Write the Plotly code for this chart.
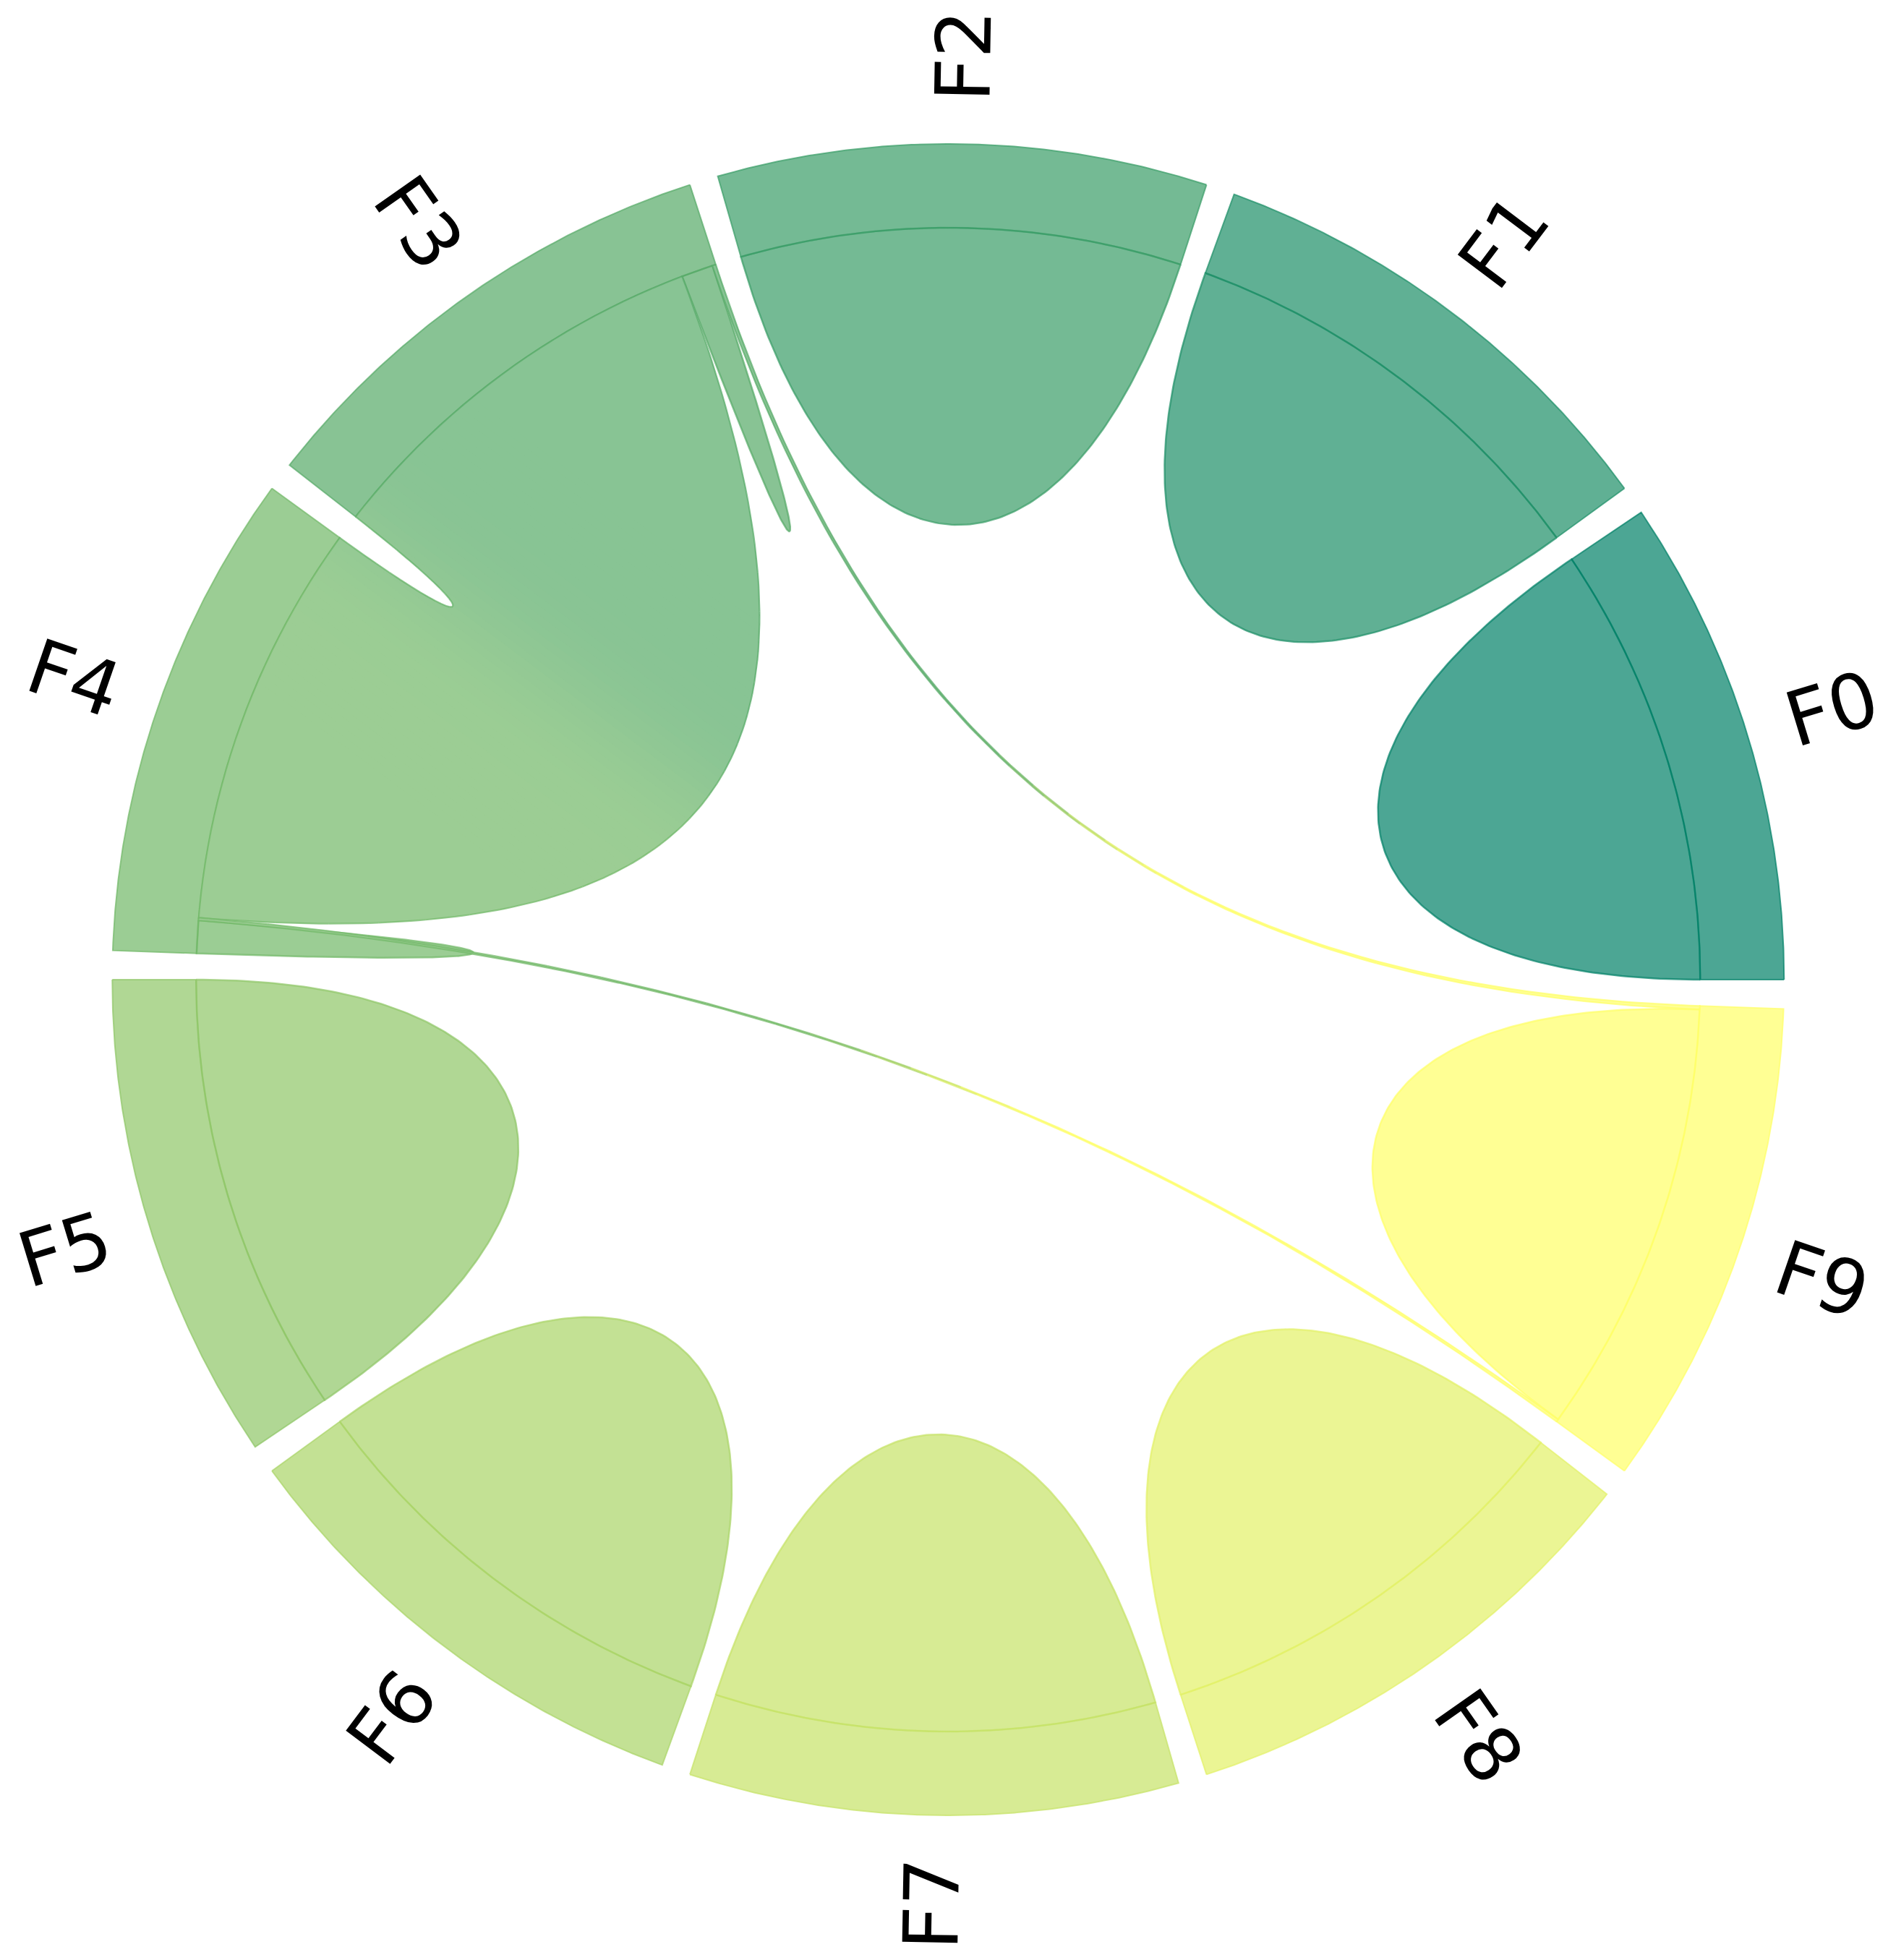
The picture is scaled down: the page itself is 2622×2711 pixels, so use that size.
import numpy as np
import plotly.graph_objects as go
from math import erf, sqrt

# ---------------- data ----------------
names = ["F0", "F1", "F2", "F3", "F4", "F5", "F6", "F7", "F8", "F9"]
matrix = [
    [100, 0, 0, 0, 0, 0, 0, 0, 0, 0],
    [0, 100, 0, 0, 0, 0, 0, 0, 0, 0],
    [0, 0, 100, 0, 0, 0, 0, 0, 0, 0],
    [0, 0, 0, 7.2, 92.0, 0, 0, 0, 0, 0.8],
    [0, 0, 0, 92.0, 7.4, 0, 0, 0, 0, 0.6],
    [0, 0, 0, 0, 0, 100, 0, 0, 0, 0],
    [0, 0, 0, 0, 0, 0, 100, 0, 0, 0],
    [0, 0, 0, 0, 0, 0, 0, 100, 0, 0],
    [0, 0, 0, 0, 0, 0, 0, 0, 100, 0],
    [0, 0, 0, 0.8, 0.6, 0, 0, 0, 0, 98.6],
]
# order of partner ends inside each arc (counter-clockwise)
arc_order = [[0], [1], [2], [9, 3, 4], [3, 9, 4], [5], [6], [7], [8], [4, 9, 3]]

# ---------------- style ----------------
W, H = 2622, 2711
CX, CY = 1311.25, 1355.0
R_IN, R_OUT = 1040.0, 1156.0
PAD = 2.0
START_AT = 0.0
ALPHA = 0.7
CHORDWIDTH = 0.7
LABEL_R = 1278.0
FONT_SIZE = 105

n = len(names)
M = np.array(matrix, dtype=float)
totals = M.sum(axis=1)
extent = 360.0 - n * PAD
sizes = totals / totals.sum() * extent
starts = START_AT + np.concatenate([[0], np.cumsum(sizes)[:-1]]) + np.arange(n) * PAD

pos = {}
for i in range(n):
    a = starts[i]
    for j in arc_order[i]:
        w = M[i, j] / totals[i] * sizes[i]
        pos[(i, j)] = (a, a + w)
        a += w


def summer(t):
    return (t, 0.5 + 0.5 * t, 0.4)


colors = [summer(i / (n - 1)) for i in range(n)]


def rgba(c, a):
    return "rgba(%d,%d,%d,%.3f)" % (round(255 * c[0]), round(255 * c[1]), round(255 * c[2]), a)


def blended_rgb(c, a=ALPHA):
    return "rgb(%d,%d,%d)" % tuple(round(255 * (a * ci + 1 - a)) for ci in c)


def pol(r, deg):
    t = np.radians(deg)
    return np.array([r * np.cos(t), r * np.sin(t)])


def arc(r, a, b):
    k = max(3, int(abs(b - a) * 5))
    t = np.radians(np.linspace(a, b, k))
    return np.column_stack([r * np.cos(t), r * np.sin(t)])


def cubic(p0, p1, p2, p3, k=160):
    t = np.linspace(0, 1, k)[:, None]
    return ((1 - t) ** 3) * p0 + 3 * ((1 - t) ** 2) * t * p1 + 3 * (1 - t) * t ** 2 * p2 + t ** 3 * p3


def cw_eff(a, b):
    d = abs(a - b) % 360
    d = min(d, 360 - d)
    return CHORDWIDTH * min(1.0, d / 6.0)


def self_poly(s, e):
    rc = R_IN * (1 - CHORDWIDTH * 0.7)
    return np.vstack([arc(R_IN, s, e),
                      cubic(pol(R_IN, e), pol(rc, e), pol(rc, s), pol(R_IN, s))])


def chord_poly(s1, e1, s2, e2):
    ra = R_IN * (1 - cw_eff(e1, s2))
    rb = R_IN * (1 - cw_eff(e2, s1))
    return np.vstack([arc(R_IN, s1, e1),
                      cubic(pol(R_IN, e1), pol(ra, e1), pol(ra, s2), pol(R_IN, s2)),
                      arc(R_IN, s2, e2),
                      cubic(pol(R_IN, e2), pol(rb, e2), pol(rb, s1), pol(R_IN, s1))])


def clip_half(poly, g, c):
    # keep points with poly.g - c >= 0
    if len(poly) == 0:
        return poly
    s = poly @ g - c
    out = []
    m = len(poly)
    for k in range(m):
        p, q = poly[k], poly[(k + 1) % m]
        sp, sq = s[k], s[(k + 1) % m]
        if sp >= 0:
            out.append(p)
        if (sp >= 0) != (sq >= 0):
            t = sp / (sp - sq)
            out.append(p + t * (q - p))
    return np.array(out) if out else np.zeros((0, 2))


fig = go.Figure()


def add_fill(poly, fillcolor, linecolor=None, lw=0):
    xs = np.append(poly[:, 0], poly[0, 0])
    ys = np.append(poly[:, 1], poly[0, 1])
    fig.add_trace(go.Scatter(
        x=xs, y=ys, mode="lines", fill="toself", fillcolor=fillcolor,
        line=dict(color=linecolor if linecolor else fillcolor, width=lw),
        hoverinfo="skip", showlegend=False))


def add_line(pts, color, lw):
    fig.add_trace(go.Scatter(
        x=pts[:, 0], y=pts[:, 1], mode="lines",
        line=dict(color=color, width=lw), hoverinfo="skip", showlegend=False))


def phi(x):
    return 0.5 * (1 + erf(x / sqrt(2)))


def mix(c1, c2, w):
    return tuple(c1[k] * (1 - w) + c2[k] * w for k in range(3))


def gradient_chord(poly, ps, pe, c1, c2):
    g = pe - ps
    dist = np.linalg.norm(g)
    g = g / dist
    mid = 0.5 * (ps + pe)
    c0 = mid @ g
    dmax = (dist / R_OUT) ** 2
    sigma = max(0.03, 0.2 * min(dmax, 0.4)) * R_OUT
    K = 48
    edges = np.linspace(-4 * sigma, 4 * sigma, K + 1)
    big = 1e5
    bounds = [(-big, edges[0])] + [(edges[k], edges[k + 1]) for k in range(K)] + [(edges[-1], big)]
    for (lo, hi) in bounds:
        piece = clip_half(poly, g, c0 + lo - 1.0)
        piece = clip_half(piece, -g, -(c0 + hi + 1.0))
        if len(piece) < 3:
            continue
        sm = 0.5 * (max(lo, -5 * sigma) + min(hi, 5 * sigma))
        w = phi(sm / sigma)
        add_fill(piece, blended_rgb(mix(c1, c2, w)))
    # outline in gradient colour
    closed = np.vstack([poly, poly[:1]])
    step = 6
    for k in range(0, len(closed) - 1, step):
        seg = closed[k:k + step + 1]
        sm = (seg.mean(axis=0) @ g) - c0
        w = phi(sm / sigma)
        add_line(seg, rgba(mix(c1, c2, w), ALPHA), 2.2)


# ring arcs (ideograms)
for i in range(n):
    a, b = starts[i], starts[i] + sizes[i]
    ring = np.vstack([arc(R_OUT, a, b), arc(R_IN, b, a)])
    add_fill(ring, rgba(colors[i], ALPHA), rgba(colors[i], ALPHA), 2.0)

# chords
for i in range(n):
    for j in range(i, n):
        if M[i, j] <= 0 and M[j, i] <= 0:
            continue
        if i == j:
            s, e = pos[(i, i)]
            add_fill(self_poly(s, e), rgba(colors[i], ALPHA), rgba(colors[i], ALPHA), 2.5)
        else:
            s1, e1 = pos[(i, j)]
            s2, e2 = pos[(j, i)]
            poly = chord_poly(s1, e1, s2, e2)
            ps = pol(R_IN, 0.5 * (s1 + e1))
            pe = pol(R_IN, 0.5 * (s2 + e2))
            gradient_chord(poly, ps, pe, colors[i], colors[j])

# labels
for i in range(n):
    mid = starts[i] + 0.5 * sizes[i]
    rot = mid % 180
    if rot > 90:
        rot -= 180
    p = pol(LABEL_R, mid)
    fig.add_annotation(x=p[0], y=p[1], xref="x", yref="y", text=names[i],
                       showarrow=False, textangle=-rot, xanchor="center", yanchor="middle",
                       font=dict(family="DejaVu Sans", size=FONT_SIZE, color="black"))

fig.update_layout(
    width=W, height=H, margin=dict(l=0, r=0, t=0, b=0),
    paper_bgcolor="white", plot_bgcolor="white", showlegend=False,
    xaxis=dict(range=[-CX, W - CX], visible=False, fixedrange=True),
    yaxis=dict(range=[-(H - CY), CY], visible=False, fixedrange=True),
)
fig.write_html("out.html")
